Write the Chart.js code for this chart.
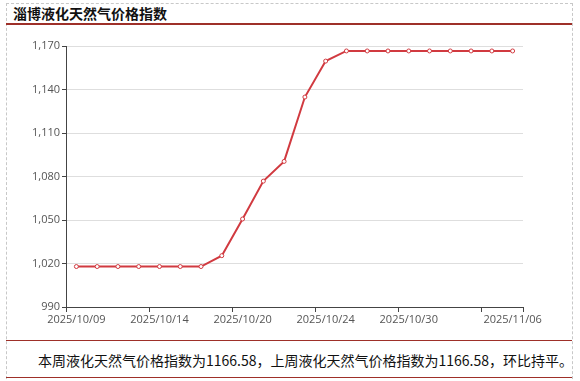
<!DOCTYPE html>
<html>
<head>
<meta charset="utf-8">
<script src="https://cdn.jsdelivr.net/npm/chart.js@4.4.1/dist/chart.umd.min.js"></script>
<style>
  body { margin: 0; background: #fff; width: 580px; height: 381px; overflow: hidden; position: relative; }
  #frame { position: absolute; left: 6px; top: 3px; width: 565px; height: 390px; border: 1px dashed #c8c8c8; border-bottom: none; }
  #title { position: absolute; left: 13px; top: 4px; font: bold 14px "Noto Sans CJK SC", sans-serif; color: #111; line-height: 18px; }
  .rule { position: absolute; left: 6px; width: 566px; height: 2px; background: #9e3029; }
  #note { position: absolute; left: 38px; top: 350px; font: 14px "Noto Sans CJK SC", sans-serif; color: #111; line-height: 20px; white-space: nowrap; }
  #wrap { position: absolute; left: 0; top: 30px; width: 580px; height: 305px; }
</style>
</head>
<body>
<div id="frame"></div>
<div id="title">淄博液化天然气价格指数</div>
<div class="rule" style="top:23px"></div>
<div id="wrap"><canvas id="chart"></canvas></div>
<div class="rule" style="top:340px;height:1px"></div>
<div id="note">本周液化天然气价格指数为1166.58，上周液化天然气价格指数为1166.58，环比持平。</div>
<div class="rule" style="top:377px;height:1px"></div>
<script>
// 日期（交易日）
const dates = [
  "2025/10/09", "2025/10/10", "2025/10/11", "2025/10/13", "2025/10/14",
  "2025/10/15", "2025/10/16", "2025/10/17", "2025/10/20", "2025/10/21",
  "2025/10/22", "2025/10/23", "2025/10/24", "2025/10/27", "2025/10/28",
  "2025/10/29", "2025/10/30", "2025/10/31", "2025/11/03", "2025/11/04",
  "2025/11/05", "2025/11/06"
];

// 价格指数
const priceIndex = [
  1017.9, 1017.9, 1017.9, 1017.9, 1017.9, 1017.9, 1017.9,
  1025.4, 1050.7, 1076.8, 1090.4, 1134.8, 1159.6,
  1166.58, 1166.58, 1166.58, 1166.58, 1166.58, 1166.58, 1166.58, 1166.58, 1166.58
];

// 横轴显示的日期
const xTickLabels = ["2025/10/09", "2025/10/14", "2025/10/20", "2025/10/24", "2025/10/30", "2025/11/06"];

// 纵轴范围
const yMin = 990;
const yMax = 1170;
const yStep = 30;

const tickFont = { family: "Open Sans", size: 11 };

new Chart(document.getElementById("chart"), {
  type: "line",
  data: {
    labels: dates,
    datasets: [
      {
        label: "淄博液化天然气价格指数",
        data: priceIndex,
        borderColor: "#d13a40",
        borderWidth: 2,
        pointRadius: 2,
        pointBorderWidth: 1,
        pointBackgroundColor: "#fff",
        pointBorderColor: "#d13a40",
        tension: 0,
        fill: false,
      },
    ],
  },
  options: {
    responsive: true,
    maintainAspectRatio: false,
    animation: false,
    layout: { padding: { left: 0, right: 57, top: 16, bottom: 0 } },
    plugins: { legend: { display: false }, tooltip: { enabled: false } },
    scales: {
      x: {
        offset: true,
        afterFit: (s) => { s.height = 28; },
        border: { color: "#444", width: 1 },
        grid: {
          offset: true,
          drawOnChartArea: false,
          tickLength: 5,
          tickColor: (ctx) => (ctx.index === undefined || ctx.index % 4 === 0 ? "#444" : "rgba(0,0,0,0)"),
        },
        ticks: {
          autoSkip: false,
          maxRotation: 0,
          padding: 1,
          color: "#555",
          font: tickFont,
          callback: (v, i) => (xTickLabels.includes(dates[i]) ? dates[i] : ""),
        },
      },
      y: {
        min: yMin,
        max: yMax,
        afterFit: (s) => { s.width = 66; },
        border: { color: "#444", width: 1 },
        grid: { color: "#dedede", tickLength: 4, tickColor: "#444" },
        ticks: { stepSize: yStep, padding: 2, color: "#555", font: tickFont },
      },
    },
  },
});
</script>
</body>
</html>
